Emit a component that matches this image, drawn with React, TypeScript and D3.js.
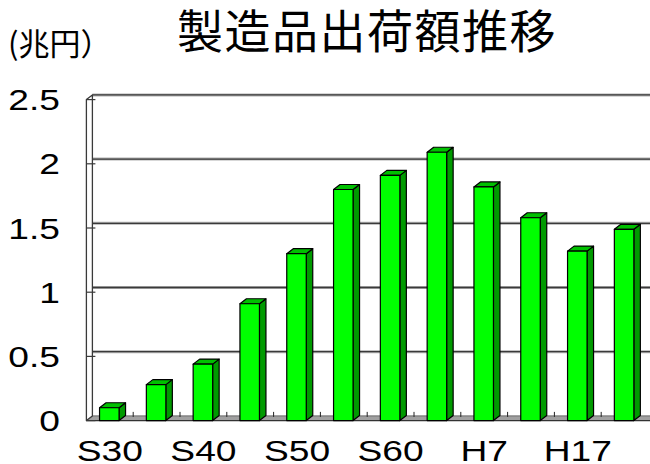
import React from "react";
import * as d3 from "d3";

// 製造品出荷額（兆円）
const categories = ["S30", "S35", "S40", "S45", "S50", "S55", "S60", "H2", "H7", "H12", "H17", "H22"];
const values = [0.1, 0.28, 0.44, 0.91, 1.3, 1.8, 1.91, 2.09, 1.82, 1.58, 1.32, 1.49];
const yTicks = [0, 0.5, 1, 1.5, 2, 2.5];
const yTickLabels = ["0", "0.5", "1", "1.5", "2", "2.5"];
const xLabelShown = ["S30", "S40", "S50", "S60", "H7", "H17"];
const title = "製造品出荷額推移";
const unitLabel = "(兆円）";

const W = 650;
const H = 464;

// 3D offsets: back wall sits up-right of the front plane
const DEPTH_X = 6;
const DEPTH_Y = -4.7;
const BAR_DX = 6.5;
const BAR_DY = -5;

export default function App() {
  const x = d3
    .scaleBand<string>()
    .domain(categories)
    .range([86.4, 648])
    .padding(0);
  const step = x.step();
  const barW = 19.5;

  // front-plane value scale
  const yFront = d3.scaleLinear().domain([0, 2.5]).range([420.6, 99.6]);
  const yBack = (v: number) => yFront(v) + DEPTH_Y;

  const frontLeft = 86.4;
  const backLeft = frontLeft + DEPTH_X;

  const labelFont = "'Liberation Sans', Arial, sans-serif";
  const sx = 1.26;

  return (
    <svg width={W} height={H} style={{ position: "absolute", left: 0, top: 0, background: "#fff" }}>
      <rect x={0} y={0} width={W} height={H} fill="#fff" />

      {/* title */}
      <text
        x={177}
        y={48}
        fontFamily="'Noto Sans CJK JP', sans-serif"
        fontSize={46}
        letterSpacing={1.5}
        fill="#000"
      >
        {title}
      </text>
      <text x={8} y={55} fontFamily="'Noto Sans CJK JP', sans-serif" fontSize={31} fill="#000">
        {unitLabel}
      </text>

      {/* floor */}
      <path
        d={`M${backLeft},${yBack(0)} L${W},${yBack(0)} L${W},${yFront(0)} L${frontLeft},${yFront(0)} Z`}
        fill="#a0a0a0"
        stroke="none"
      />
      <line x1={frontLeft} x2={W} y1={yFront(0)} y2={yFront(0)} stroke="#333" strokeWidth={1.3} />
      <line x1={backLeft} x2={W} y1={yBack(0)} y2={yBack(0)} stroke="#666" strokeWidth={1} />

      {/* back wall gridlines */}
      {yTicks.filter((t) => t > 0).map((t) => (
        <g key={"g" + t}>
          <line x1={backLeft} x2={W} y1={yBack(t)} y2={yBack(t)} stroke="#b0b0b0" strokeWidth={3} />
          <line x1={backLeft} x2={W} y1={yBack(t)} y2={yBack(t)} stroke="#3a3a3a" strokeWidth={1.3} />
        </g>
      ))}

      {/* left wall */}
      <path
        d={`M${frontLeft},${yFront(0)} L${frontLeft},${yFront(2.5)} L${backLeft},${yBack(2.5)} L${backLeft},${yBack(0)} Z`}
        fill="#fff"
        stroke="#3a3a3a"
        strokeWidth={1.3}
        strokeLinejoin="round"
      />
      {yTicks.map((t) => (
        <line
          key={"t" + t}
          x1={frontLeft}
          x2={backLeft + 3}
          y1={yFront(t)}
          y2={yFront(t)}
          stroke="#3a3a3a"
          strokeWidth={1.2}
        />
      ))}

      {/* category ticks on the floor */}
      {categories.slice(1).map((c) => (
        <line
          key={"ct" + c}
          x1={x(c)!}
          x2={x(c)!}
          y1={yBack(0) - 4}
          y2={yBack(0) + 1}
          stroke="#222"
          strokeWidth={1}
        />
      ))}

      {/* bars */}
      {categories.map((c, i) => {
        const v = values[i];
        const x0 = x(c)! + (step - barW) / 2 - 0.5;
        const x1 = x0 + barW;
        const yt = yFront(v);
        const yb = yFront(0);
        return (
          <g key={c} stroke="#000" strokeWidth={1.2} strokeLinejoin="round">
            <path
              d={`M${x1},${yb} L${x1 + BAR_DX},${yb + BAR_DY} L${x1 + BAR_DX},${yt + BAR_DY} L${x1},${yt} Z`}
              fill="#009a00"
            />
            <path
              d={`M${x0},${yt} L${x0 + BAR_DX},${yt + BAR_DY} L${x1 + BAR_DX},${yt + BAR_DY} L${x1},${yt} Z`}
              fill="#00c000"
            />
            <rect x={x0} y={yt} width={barW} height={yb - yt} fill="#00ff00" />
          </g>
        );
      })}

      {/* y-axis labels */}
      {yTicks.map((t, i) => (
        <text
          key={"yl" + t}
          transform={`translate(60,${yFront(t) + 10.5}) scale(${sx},1)`}
          textAnchor="end"
          fontFamily={labelFont}
          fontSize={29.5}
          fill="#000"
        >
          {yTickLabels[i]}
        </text>
      ))}

      {/* x-axis labels */}
      {categories.map((c) =>
        xLabelShown.includes(c) ? (
          <text
            key={"xl" + c}
            transform={`translate(${x(c)! + step / 2},461) scale(${sx},1)`}
            textAnchor="middle"
            fontFamily={labelFont}
            fontSize={29.5}
            fill="#000"
          >
            {c}
          </text>
        ) : null
      )}
    </svg>
  );
}
